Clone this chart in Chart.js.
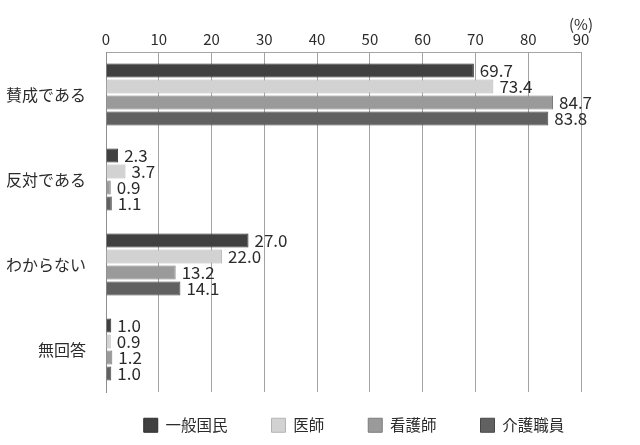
<!DOCTYPE html>
<html>
<head>
<meta charset="utf-8">
<script src="https://cdn.jsdelivr.net/npm/chart.js@4"></script>
<style>
  html, body { margin: 0; padding: 0; background: #fff; }
  #wrap { width: 640px; height: 445px; }
</style>
</head>
<body>
<div id="wrap"><canvas id="barChart"></canvas></div>
<script>
const categories = ["賛成である", "反対である", "わからない", "無回答"];
const seriesNames = ["一般国民", "医師", "看護師", "介護職員"];
const ippan = [69.7, 2.3, 27.0, 1.0];
const ishi = [73.4, 3.7, 22.0, 0.9];
const kango = [84.7, 0.9, 13.2, 1.2];
const kaigo = [83.8, 1.1, 14.1, 1.0];
const xTicks = [0, 10, 20, 30, 40, 50, 60, 70, 80, 90];

const fillColors = ["#404040", "#d2d2d2", "#9a9a9a", "#616161"];
const edgeColors = ["#2e2e2e", "#b4b4b4", "#7c7c7c", "#474747"];
const fontName = "'Noto Sans CJK JP', 'Noto Sans', sans-serif";

const valueLabels = {
  id: "valueLabels",
  afterDatasetsDraw(chart) {
    const ctx = chart.ctx;
    ctx.save();
    ctx.font = "17px " + fontName;
    ctx.fillStyle = "#2b2b2b";
    ctx.textAlign = "left";
    ctx.textBaseline = "middle";
    chart.data.datasets.forEach((ds, i) => {
      chart.getDatasetMeta(i).data.forEach((bar, j) => {
        ctx.fillText(ds.data[j].toFixed(1), bar.x + 6, bar.y);
      });
    });
    ctx.restore();
  },
};

// legend sits lower and a bit right of centre in the original
const legendPlace = {
  id: "legendPlace",
  beforeInit(chart) {
    const lg = chart.legend;
    const fit = lg.fit;
    lg.fit = function () {
      fit.call(this);
      this.height = 53;
    };
  },
  afterLayout(chart) {
    const lg = chart.legend;
    lg.left = 68;
    lg.right = 640;
    lg.top = 373.5;
  },
};

const data = [ippan, ishi, kango, kaigo];

let ctx = document.getElementById("barChart").getContext("2d");
let chart = new Chart(ctx, {
  type: "bar",
  data: {
    labels: categories,
    datasets: seriesNames.map((name, i) => ({
      label: name,
      data: data[i],
      backgroundColor: fillColors[i],
      borderColor: edgeColors[i],
      borderWidth: 1,
      categoryPercentage: 0.753,
      barPercentage: 0.89,
    })),
  },
  options: {
    indexAxis: "y",
    responsive: true,
    maintainAspectRatio: false,
    animation: false,
    layout: { padding: { top: 0, right: 59, bottom: 0, left: 0 } },
    plugins: {
      tooltip: { enabled: false },
      legend: {
        position: "bottom",
        labels: {
          boxWidth: 14,
          boxHeight: 14,
          padding: 44,
          color: "#2b2b2b",
          font: { family: fontName, size: 15.5 },
        },
      },
    },
    scales: {
      x: {
        position: "top",
        min: 0,
        max: 90,
        afterBuildTicks(scale) {
          scale.ticks = xTicks.map((v) => ({ value: v }));
        },
        afterFit(scale) {
          scale.height = 52;
        },
        grid: { color: "#a3a3a3", lineWidth: 1, drawTicks: false },
        border: { display: true, color: "#a3a3a3", width: 1 },
        ticks: {
          padding: 5.5,
          color: "#2b2b2b",
          font: { family: fontName, size: 15, lineHeight: 1 },
          maxRotation: 0,
          callback: (v) => (v === 90 ? ["(%)", "90"] : String(v)),
        },
      },
      y: {
        afterFit(scale) {
          scale.width = 106;
        },
        grid: { display: false },
        border: { display: true, color: "#8f8f8f", width: 1 },
        ticks: {
          padding: 12,
          color: "#2b2b2b",
          font: { family: fontName, size: 16 },
        },
      },
    },
  },
  plugins: [valueLabels, legendPlace],
});
</script>
</body>
</html>
